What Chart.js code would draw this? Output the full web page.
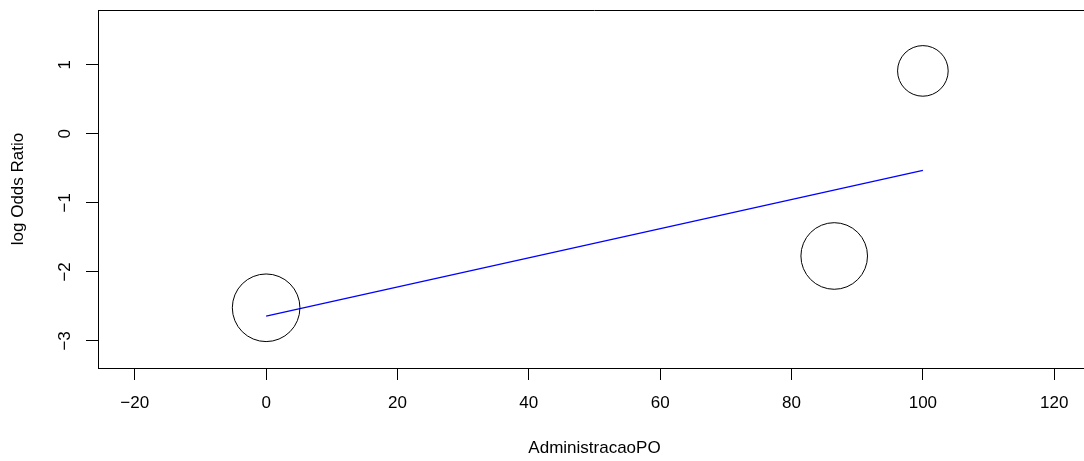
<!DOCTYPE html>
<html>
<head>
<meta charset="utf-8">
<script src="https://cdn.jsdelivr.net/npm/chart.js@4/dist/chart.umd.min.js"></script>
<style>
  html, body { margin: 0; padding: 0; background: #fff; overflow: hidden; }
  #wrap { width: 1084px; height: 461px; overflow: hidden; }
</style>
</head>
<body>
<div id="wrap"><canvas id="canvas" width="1092" height="461"></canvas></div>
<script>
// study points (moderator value, log odds ratio, bubble size)
const moderator = [0, 86.5, 100];
const logOddsRatio = [-2.52, -1.77, 0.91];
const studySize = [33.8, 33.3, 25.3];

// fitted meta-regression line
const fitX = [0, 100];
const fitY = [-2.64, -0.53];

const xTicks = [-20, 0, 20, 40, 60, 80, 100, 120];
const yTicks = [-3, -2, -1, 0, 1];

const xTitle = 'AdministracaoPO';
const yTitle = 'log Odds Ratio';

const FONT = '17px "Liberation Sans", Arial, sans-serif';

const bubbles = moderator.map((m, i) => ({ x: m, y: logOddsRatio[i], r: studySize[i] }));
const fitLine = fitX.map((x, i) => ({ x: x, y: fitY[i] }));

// R-style top border, rotated y labels and axis titles
const rPlot = {
    id: 'rPlot',
    afterDraw(chart) {
        const c = chart.ctx;
        const a = chart.chartArea;
        const ys = chart.scales.y;
        c.save();
        c.strokeStyle = '#000';
        c.lineWidth = 1;
        c.beginPath();
        c.moveTo(a.left, a.top + 0.5);
        c.lineTo(a.right, a.top + 0.5);
        c.stroke();

        c.fillStyle = '#000';
        c.font = FONT;
        c.textAlign = 'center';
        c.textBaseline = 'middle';
        yTicks.forEach(v => {
            const py = ys.getPixelForValue(v);
            c.save();
            c.translate(65, py);
            c.rotate(-Math.PI / 2);
            c.fillText(v < 0 ? '\u2212' + Math.abs(v) : String(v), 0, 0);
            c.restore();
        });

        c.fillText(xTitle, (a.left + a.right) / 2, 448);
        c.save();
        c.translate(18, (a.top + a.bottom) / 2);
        c.rotate(-Math.PI / 2);
        c.fillText(yTitle, 0, 0);
        c.restore();
        c.restore();
    }
};

const ctx = document.getElementById('canvas').getContext('2d');

const myChart = new Chart(ctx, {
    type: 'bubble',
    data: {
        datasets: [
            {
                label: 'studies',
                data: bubbles,
                borderColor: '#000',
                backgroundColor: 'rgba(0,0,0,0)',
                borderWidth: 1,
                hoverRadius: 0
            },
            {
                type: 'line',
                label: 'fit',
                data: fitLine,
                borderColor: '#0000ff',
                borderWidth: 1.3,
                pointRadius: 0,
                fill: false
            }
        ]
    },
    options: {
        responsive: false,
        animation: false,
        events: [],
        layout: { autoPadding: false, padding: { top: 10, right: 1, left: 0, bottom: 0 } },
        plugins: {
            legend: { display: false },
            tooltip: { enabled: false },
            title: { display: false }
        },
        scales: {
            x: {
                type: 'linear',
                min: -25.6,
                max: 125.6,
                afterBuildTicks: s => { s.ticks = xTicks.map(v => ({ value: v })); },
                afterFit: s => { s.height = 93; },
                grid: {
                    drawOnChartArea: false,
                    drawTicks: true,
                    tickLength: 12,
                    color: '#000'
                },
                border: { display: true, color: '#000', width: 1 },
                ticks: {
                    color: '#000',
                    font: { family: '"Liberation Sans", Arial, sans-serif', size: 17 },
                    padding: 13,
                    maxRotation: 0,
                    callback: v => (v < 0 ? '\u2212' + Math.abs(v) : String(v))
                }
            },
            y: {
                type: 'linear',
                min: -3.392,
                max: 1.792,
                afterBuildTicks: s => { s.ticks = yTicks.map(v => ({ value: v })); },
                afterFit: s => { s.width = 98; },
                grid: {
                    drawOnChartArea: false,
                    drawTicks: true,
                    tickLength: 12,
                    color: '#000'
                },
                border: { display: true, color: '#000', width: 1 },
                ticks: { display: false }
            }
        }
    },
    plugins: [rPlot]
});
</script>
</body>
</html>
